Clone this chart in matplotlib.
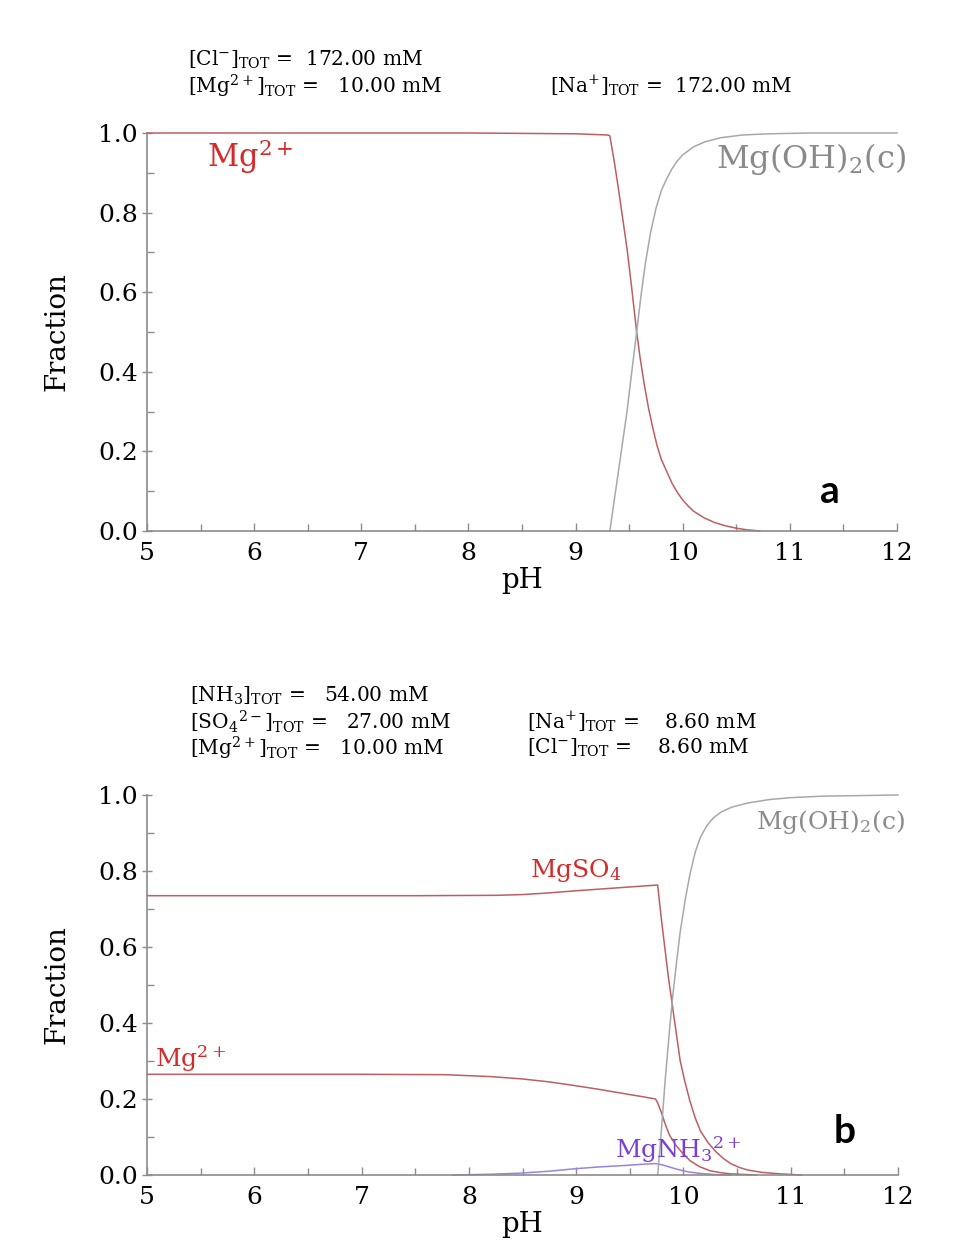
import matplotlib
matplotlib.use("Agg")
import matplotlib.pyplot as plt
from matplotlib.ticker import MultipleLocator

plt.rcParams["font.family"] = ["DejaVu Serif"]
plt.rcParams["mathtext.fontset"] = "dejavuserif"

# ---- Panel a: 172 mM NaCl, 10 mM Mg ----
ph_a_mg = [5.0, 8.0, 9.00, 9.30, 9.32, 9.36, 9.40, 9.44, 9.48, 9.52, 9.57, 9.60, 9.64,
           9.68, 9.72, 9.76, 9.80, 9.85, 9.90, 9.95, 10.00, 10.05, 10.10, 10.20,
           10.30, 10.40, 10.50, 10.60, 10.72]
frac_a_mg = [1.0, 1.0, 0.998, 0.995, 0.993, 0.93, 0.86, 0.785, 0.71, 0.62, 0.50, 0.44,
             0.37, 0.31, 0.26, 0.215, 0.18, 0.15, 0.12, 0.097, 0.078, 0.063, 0.050,
             0.033, 0.021, 0.013, 0.007, 0.003, 0.0]

ph_a_oh = [9.32, 9.36, 9.40, 9.44, 9.48, 9.52, 9.57, 9.61, 9.65, 9.70, 9.75, 9.80,
           9.85, 9.90, 9.95, 10.00, 10.10, 10.20, 10.35, 10.56, 10.80, 11.20, 12.0]
frac_a_oh = [0.0, 0.075, 0.15, 0.225, 0.30, 0.39, 0.50, 0.59, 0.67, 0.75, 0.81, 0.855,
             0.885, 0.91, 0.93, 0.945, 0.965, 0.977, 0.988, 0.995, 0.998, 1.0, 1.0]

# ---- Panel b: ammonium sulfate medium ----
ph_b_so4 = [5.0, 7.5, 8.26, 8.5, 8.73, 9.0, 9.3, 9.6, 9.76, 9.78, 9.80, 9.83, 9.86,
            9.90, 9.94, 9.97, 10.01, 10.06, 10.11, 10.16, 10.23, 10.30, 10.37, 10.44,
            10.52, 10.60, 10.73, 10.90, 11.10]
frac_b_so4 = [0.735, 0.735, 0.736, 0.738, 0.742, 0.748, 0.754, 0.760, 0.763, 0.71,
              0.66, 0.59, 0.52, 0.44, 0.36, 0.30, 0.25, 0.195, 0.15, 0.115, 0.085,
              0.062, 0.044, 0.030, 0.020, 0.013, 0.007, 0.003, 0.0]

ph_b_mg = [5.0, 7.0, 7.78, 8.2, 8.49, 8.75, 8.97, 9.2, 9.45, 9.60, 9.74, 9.76, 9.78,
           9.80, 9.83, 9.87, 9.93, 10.00, 10.06, 10.15, 10.25, 10.35, 10.44, 10.68]
frac_b_mg = [0.265, 0.265, 0.264, 0.259, 0.253, 0.245, 0.236, 0.226, 0.214, 0.207,
             0.200, 0.19, 0.175, 0.16, 0.134, 0.105, 0.078, 0.055, 0.038, 0.022,
             0.011, 0.006, 0.003, 0.0]

ph_b_oh = [9.76, 9.79, 9.83, 9.87, 9.90, 9.94, 9.97, 10.02, 10.06, 10.11, 10.16, 10.22,
           10.28, 10.35, 10.45, 10.60, 10.80, 11.00, 11.30, 12.0]
frac_b_oh = [0.0, 0.10, 0.25, 0.38, 0.47, 0.57, 0.64, 0.73, 0.79, 0.85, 0.89, 0.92,
             0.94, 0.955, 0.968, 0.979, 0.988, 0.993, 0.997, 1.0]

ph_b_nh3 = [7.85, 8.2, 8.49, 8.75, 8.97, 9.2, 9.45, 9.6, 9.74, 9.80, 9.87, 9.93, 10.0,
            10.05, 10.16, 10.30, 10.44]
frac_b_nh3 = [0.0, 0.002, 0.005, 0.010, 0.016, 0.021, 0.025, 0.028, 0.030, 0.027,
              0.021, 0.016, 0.011, 0.008, 0.004, 0.001, 0.0]

x_ticks = [5, 6, 7, 8, 9, 10, 11, 12]
y_ticks = [0.0, 0.2, 0.4, 0.6, 0.8, 1.0]

RED_LINE = "#bc5f64"
RED_TEXT = "#d42a2a"
GRAY_LINE = "#a8a8a8"
GRAY_TEXT = "#8a8a8a"
PURPLE_LINE = "#9a82e0"
PURPLE_TEXT = "#7a3fd8"
AXIS = "#8c8c8c"

W, H = 964, 1242
fig = plt.figure(figsize=(W / 100, H / 100), dpi=100)


def px_axes(left, top, right, bottom):
    return fig.add_axes([left / W, 1 - bottom / H, (right - left) / W, (bottom - top) / H])


def style(ax):
    ax.set_xlim(5, 12)
    ax.set_ylim(0, 1)
    for s in ("top", "right"):
        ax.spines[s].set_visible(False)
    for s in ("left", "bottom"):
        ax.spines[s].set_color(AXIS)
        ax.spines[s].set_linewidth(1.2)
    ax.set_xticks(x_ticks)
    ax.set_yticks(y_ticks)
    ax.set_yticklabels([f"{v:.1f}" for v in y_ticks])
    ax.xaxis.set_minor_locator(MultipleLocator(0.5))
    ax.yaxis.set_minor_locator(MultipleLocator(0.1))
    ax.tick_params(which="major", direction="inout", length=7, width=1.0,
                   color=AXIS, labelsize=18, pad=3)
    ax.tick_params(which="minor", direction="in", length=5, width=1.0, color=AXIS)
    ax.tick_params(axis="x", which="major", direction="in", length=6, pad=8)
    ax.set_xlabel("pH", fontsize=20, labelpad=1)
    ax.set_ylabel("Fraction", fontsize=20, labelpad=20)


HEAD = 14.5

# Panel a
ax1 = px_axes(147, 133, 897, 531)
style(ax1)
ax1.plot(ph_a_mg, frac_a_mg, color=RED_LINE, lw=1.1, clip_on=False)
ax1.plot(ph_a_oh, frac_a_oh, color=GRAY_LINE, lw=1.1, clip_on=False)
ax1.text(5.96, 0.94, r"Mg$^{2+}$", color=RED_TEXT, fontsize=22, ha="center", va="center")
ax1.text(11.2, 0.935, r"Mg(OH)$_2$(c)", color=GRAY_TEXT, fontsize=23, ha="center", va="center")
ax1.text(11.37, 0.10, "a", family=["Lato", "DejaVu Sans"], fontweight="bold",
         fontsize=28, ha="center", va="center")

fig.text(188 / W, 1 - 60 / H, r"[Cl$^{-}$]$_{\mathrm{TOT}}$ =  172.00 mM", fontsize=HEAD, va="center")
fig.text(188 / W, 1 - 86 / H, r"[Mg$^{2+}$]$_{\mathrm{TOT}}$ =   10.00 mM", fontsize=HEAD, va="center")
fig.text(550 / W, 1 - 86 / H, r"[Na$^{+}$]$_{\mathrm{TOT}}$ =  172.00 mM", fontsize=HEAD, va="center")

# Panel b
ax2 = px_axes(147, 795, 898, 1175)
style(ax2)
ax2.plot(ph_b_nh3, frac_b_nh3, color=PURPLE_LINE, lw=1.1, clip_on=False)
ax2.plot(ph_b_mg, frac_b_mg, color=RED_LINE, lw=1.1, clip_on=False)
ax2.plot(ph_b_so4, frac_b_so4, color=RED_LINE, lw=1.1, clip_on=False)
ax2.plot(ph_b_oh, frac_b_oh, color=GRAY_LINE, lw=1.1, clip_on=False)
ax2.text(9.0, 0.80, r"MgSO$_4$", color=RED_TEXT, fontsize=18, ha="center", va="center")
ax2.text(5.41, 0.305, r"Mg$^{2+}$", color=RED_TEXT, fontsize=18, ha="center", va="center")
ax2.text(11.37, 0.93, r"Mg(OH)$_2$(c)", color=GRAY_TEXT, fontsize=18, ha="center", va="center")
ax2.text(9.95, 0.068, r"MgNH$_3$$^{2+}$", color=PURPLE_TEXT, fontsize=18, ha="center", va="center")
ax2.text(11.5, 0.115, "b", family=["Lato", "DejaVu Sans"], fontweight="bold",
         fontsize=28, ha="center", va="center")

fig.text(190 / W, 1 - 696 / H, r"[NH$_3$]$_{\mathrm{TOT}}$ =   54.00 mM", fontsize=HEAD, va="center")
fig.text(190 / W, 1 - 722 / H, r"[SO$_4$$^{2-}$]$_{\mathrm{TOT}}$ =   27.00 mM", fontsize=HEAD, va="center")
fig.text(190 / W, 1 - 748 / H, r"[Mg$^{2+}$]$_{\mathrm{TOT}}$ =   10.00 mM", fontsize=HEAD, va="center")
fig.text(527 / W, 1 - 722 / H, r"[Na$^{+}$]$_{\mathrm{TOT}}$ =    8.60 mM", fontsize=HEAD, va="center")
fig.text(527 / W, 1 - 748 / H, r"[Cl$^{-}$]$_{\mathrm{TOT}}$ =    8.60 mM", fontsize=HEAD, va="center")

fig.savefig("out.png", dpi=100, facecolor="white")
